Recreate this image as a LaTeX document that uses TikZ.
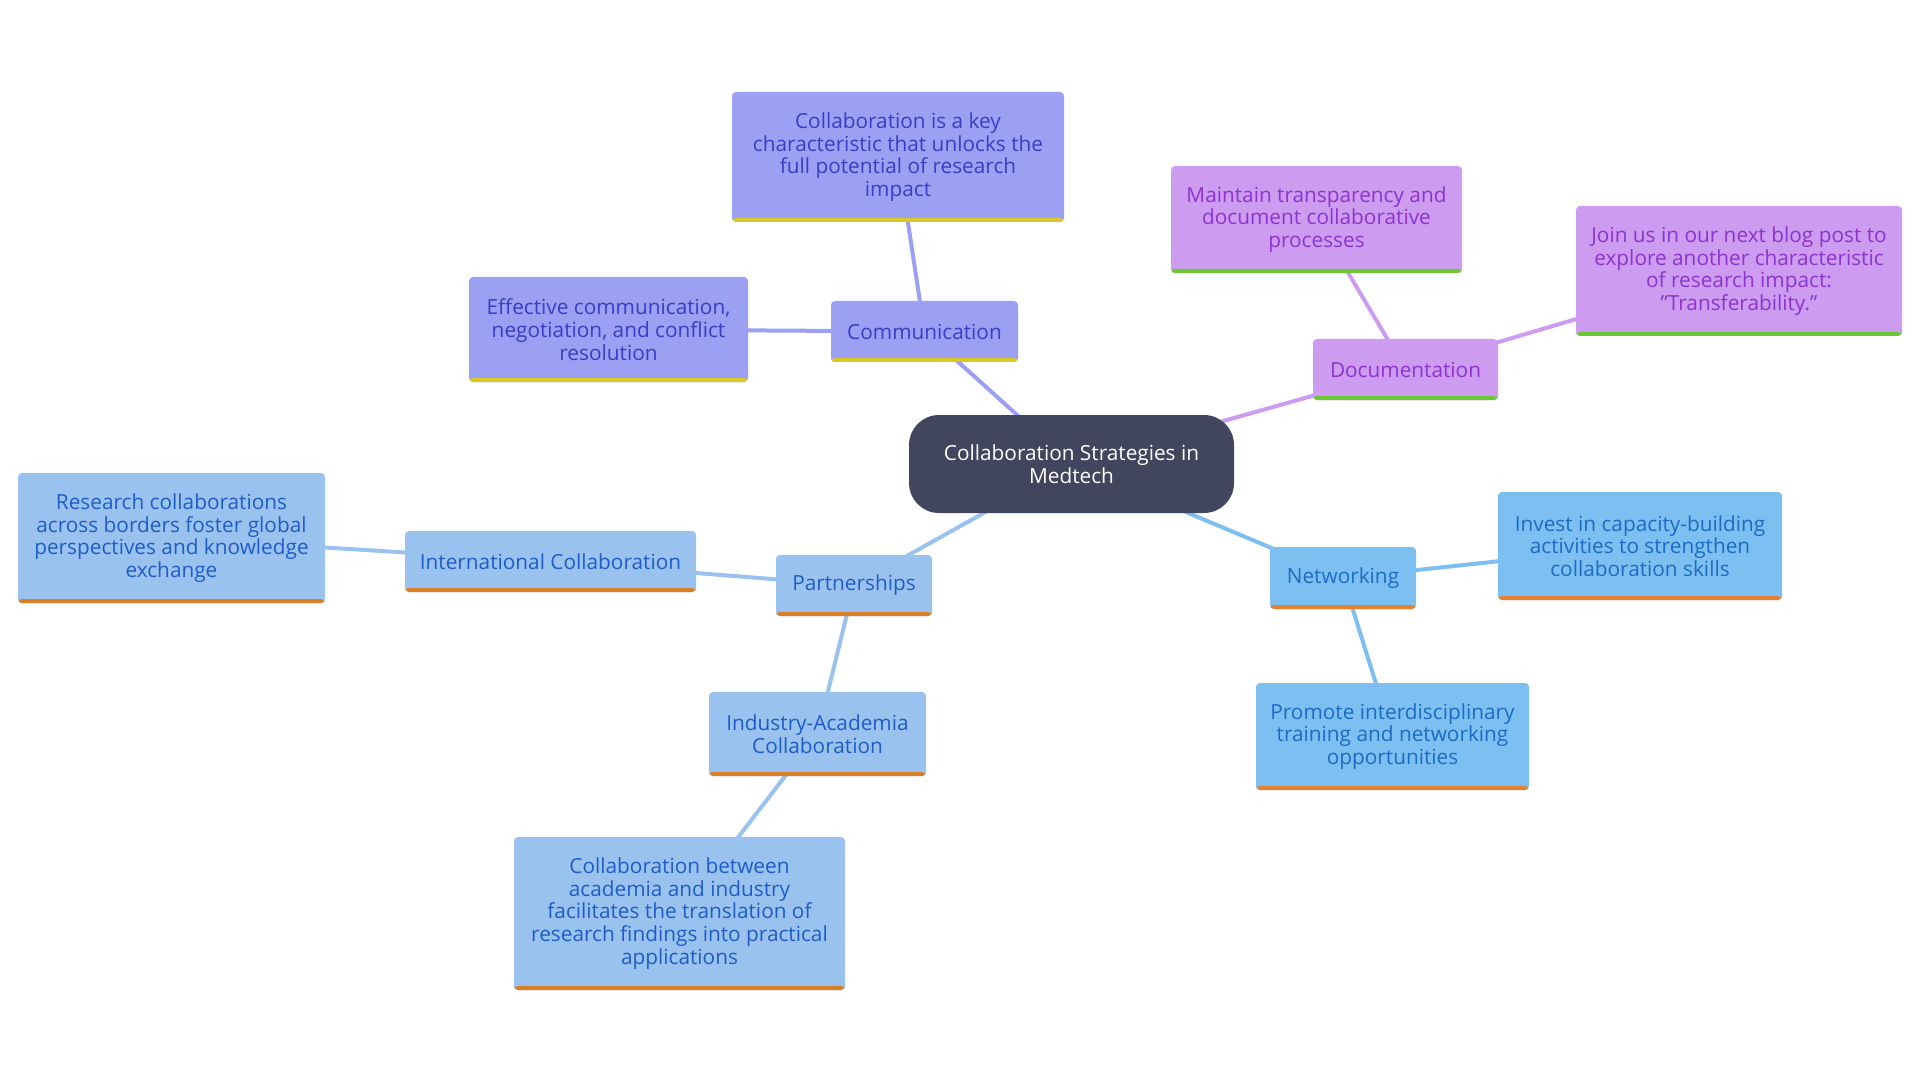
\documentclass[tikz,border=0pt]{standalone}
\usepackage{fontspec}
\setmainfont{Open Sans}[Ligatures=ResetAll]
\usetikzlibrary{backgrounds}

\definecolor{rootfill}{HTML}{41455E}
\definecolor{commfill}{HTML}{9BA0F2}
\definecolor{commtext}{HTML}{3A3DC6}
\definecolor{commbar}{HTML}{D9C928}
\definecolor{docfill}{HTML}{CD9BF0}
\definecolor{doctext}{HTML}{8C34D0}
\definecolor{docbar}{HTML}{6CC832}
\definecolor{partfill}{HTML}{9AC2EF}
\definecolor{parttext}{HTML}{1F5CC8}
\definecolor{partbar}{HTML}{D98026}
\definecolor{netfill}{HTML}{7DBFF1}
\definecolor{nettext}{HTML}{1C6BC4}
\definecolor{netbar}{HTML}{E4822F}

\begin{document}
\begin{tikzpicture}[x=0.5pt,y=-0.5pt,
  every node/.style={align=center,inner sep=0pt,font=\fontsize{10.4}{11.35}\selectfont},
  box/.style 2 args={fill=#1,rounded corners=2pt,
    path picture={\fill[#2] (path picture bounding box.south west) rectangle ([yshift=2pt]path picture bounding box.south east);}},
  comm/.style={box={commfill}{commbar},text=commtext},
  doc/.style={box={docfill}{docbar},text=doctext},
  part/.style={box={partfill}{partbar},text=parttext},
  net/.style={box={netfill}{netbar},text=nettext},
  link/.style={line width=2pt}]
\useasboundingbox (0,0) rectangle (1920,1080);

\node[fill=rootfill,rounded corners=15pt,text=white,minimum width=162.5pt,minimum height=49pt] (root) at (1071.5,464) {Collaboration Strategies in\\Medtech};

\node[comm,minimum width=93.5pt,minimum height=30.5pt] (comm) at (924.5,331.5) {Communication};
\node[comm,minimum width=166pt,minimum height=65pt] (key) at (898,157) {Collaboration is a key\\characteristic that unlocks the\\full potential of research\\impact};
\node[comm,minimum width=139.5pt,minimum height=52.5pt] (effect) at (608.5,329.5) {Effective communication,\\negotiation, and conflict\\resolution};

\node[doc,minimum width=92.5pt,minimum height=30.5pt] (doc) at (1405.5,369.5) {Documentation};
\node[doc,minimum width=145.5pt,minimum height=53.5pt] (maint) at (1316.5,219.5) {Maintain transparency and\\document collaborative\\processes};
\node[doc,minimum width=163pt,minimum height=65pt] (join) at (1739,271) {Join us in our next blog post to\\explore another characteristic\\of research impact:\\"Transferability."};

\node[part,minimum width=78pt,minimum height=30.5pt] (part) at (854,585.5) {Partnerships};
\node[part,minimum width=145.5pt,minimum height=30.5pt] (intl) at (550.5,561.5) {International Collaboration};
\node[part,minimum width=153.5pt,minimum height=65pt] (cross) at (171.5,538) {Research collaborations\\across borders foster global\\perspectives and knowledge\\exchange};
\node[part,minimum width=108.5pt,minimum height=42pt] (indus) at (817.5,734) {Industry-Academia\\Collaboration};
\node[part,minimum width=165.5pt,minimum height=76.5pt] (transl) at (679.5,913.5) {Collaboration between\\academia and industry\\facilitates the translation of\\research findings into practical\\applications};

\node[net,minimum width=73pt,minimum height=31pt] (net) at (1343,578) {Networking};
\node[net,minimum width=142pt,minimum height=54pt] (invest) at (1640,546) {Invest in capacity-building\\activities to strengthen\\collaboration skills};
\node[net,minimum width=136.5pt,minimum height=53.5pt] (promote) at (1392.5,736.5) {Promote interdisciplinary\\training and networking\\opportunities};

\begin{scope}[on background layer]
\draw[link,commfill] (root.center) -- (comm.center);
\draw[link,commfill] (comm.center) -- (key.center);
\draw[link,commfill] (comm.center) -- (effect.center);
\draw[link,docfill] (root.center) -- (doc.center);
\draw[link,docfill] (doc.center) -- (maint.center);
\draw[link,docfill] (doc.center) -- (join.center);
\draw[link,partfill] (root.center) -- (part.center);
\draw[link,partfill] (part.center) -- (intl.center);
\draw[link,partfill] (intl.center) -- (cross.center);
\draw[link,partfill] (part.center) -- (indus.center);
\draw[link,partfill] (indus.center) -- (transl.center);
\draw[link,netfill] (root.center) -- (net.center);
\draw[link,netfill] (net.center) -- (invest.center);
\draw[link,netfill] (net.center) -- (promote.center);
\end{scope}
\end{tikzpicture}
\end{document}
